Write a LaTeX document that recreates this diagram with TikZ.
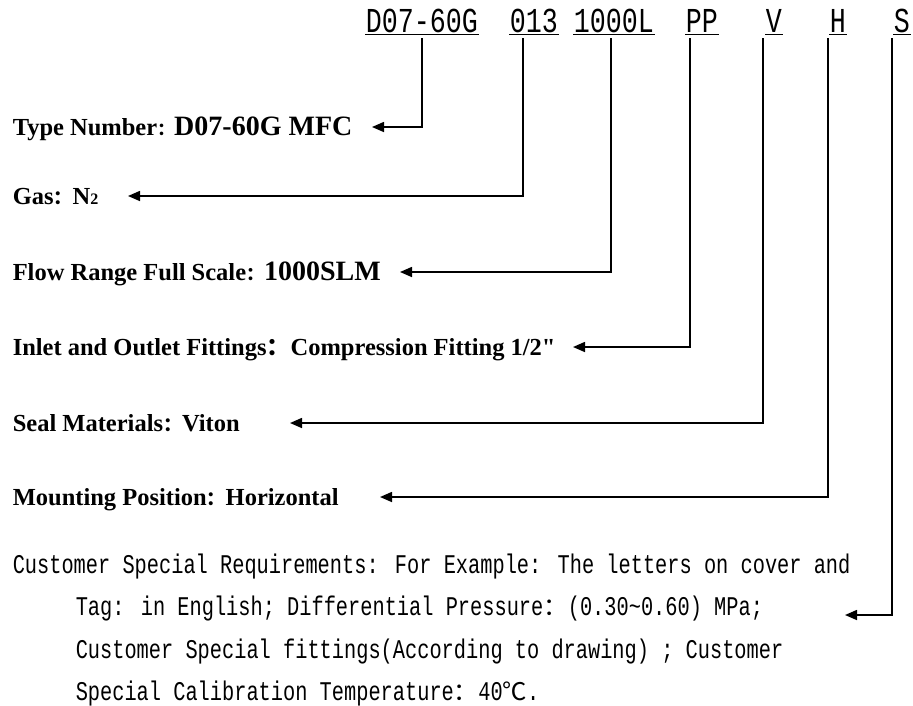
\documentclass[tikz,border=0pt]{standalone}
\usepackage{fontspec}
\setmainfont{Liberation Serif}
\newfontfamily\codefont[FakeStretch=0.762]{Liberation Mono}
\newfontfamily\reqfont[FakeStretch=0.753]{Liberation Mono}
\newfontfamily\cjkfont{Noto Sans CJK SC}
\newfontfamily\quotefont{Liberation Serif}
\usetikzlibrary{arrows.meta}

% full width colon, its size sets its width
\newcommand{\fwc}[1]{{\cjkfont\bfseries\fontsize{#1}{#1}\selectfont ：}}
\newcommand{\bigval}[1]{{\fontsize{28}{32}\selectfont #1}}
\newcommand{\cjkreq}[1]{{\cjkfont\fontsize{24.4}{28}\selectfont #1}}

\tikzset{every picture/.style={line width=1.5pt},
	codetok/.style={anchor=base west,inner sep=0pt,font=\codefont\fontsize{35}{40}\selectfont},
	keytext/.style={anchor=base west,inner sep=0pt,font=\bfseries\fontsize{24.5}{28}\selectfont},
	reqtext/.style={anchor=base west,inner sep=0pt,font=\reqfont\fontsize{27}{30}\selectfont},
	link/.style={-{Triangle[length=12pt,width=10pt]},line width=1.6pt}}

\begin{document}
\begin{tikzpicture}[x=1pt,y=1pt,yscale=-1,xscale=1]
	\useasboundingbox (0,0) rectangle (913,705);
	\fill[white] (0,0) rectangle (913,705);
	
	%code string
	\node[codetok] (cType) at (365,32) {D07-60G};
	\node[codetok] (cGas) at (509,32) {013};
	\node[codetok] (cFlow) at (573,32) {1000L};
	\node[codetok] (cFit) at (685,32) {PP};
	\node[codetok] (cSeal) at (765,32) {V};
	\node[codetok] (cMount) at (829,32) {H};
	\node[codetok] (cSpec) at (893,32) {S};
	\foreach \t in {cType,cGas,cFlow,cFit,cSeal,cMount,cSpec}
		\draw[line width=1.3pt] ([yshift=2.5pt]\t.base west) -- ([yshift=2.5pt]\t.base east);
	
	%labels
	\node[keytext] (lType) at (12,135) {Type Number\fwc{17pt}\bigval{D07-60G MFC}};
	\node[keytext] (lGas) at (12,204) {Gas\fwc{19pt}N{\fontsize{16}{18}\selectfont 2}};
	\node[keytext] (lFlow) at (12,280) {Flow Range Full Scale\fwc{18pt}\bigval{1000SLM}};
	\node[keytext] (lFit) at (12,355) {Inlet and Outlet Fittings\fwc{24pt}Compression Fitting 1/2{\quotefont\bfseries "}};
	\node[keytext] (lSeal) at (12,431) {Seal Materials\fwc{19pt}Viton};
	\node[keytext] (lMount) at (12,505) {Mounting Position\fwc{19pt}Horizontal};
	
	\node[reqtext] (req1) at (12,573) {Customer Special Requirements: For Example: The letters on cover and};
	\node[reqtext] (req2) at (75,615.5) {Tag: in English; Differential Pressure\cjkreq{：}(0.30\textasciitilde0.60) MPa;};
	\node[reqtext] (req3) at (75,658) {Customer Special fittings(According to drawing) ; Customer};
	\node[reqtext] (req4) at (75,700.5) {Special Calibration Temperature\cjkreq{：}40\cjkreq{℃}.};
	
	%arrow tips
	\coordinate (tipType) at (372,127);
	\coordinate (tipGas) at (128,196);
	\coordinate (tipFlow) at (400,272);
	\coordinate (tipFit) at (573,347);
	\coordinate (tipSeal) at (290,423);
	\coordinate (tipMount) at (380,497);
	\coordinate (tipSpec) at (845,615);
	
	\draw[link] ([yshift=6pt]cType.base) |- (tipType);
	\draw[link] ([xshift=14pt,yshift=6pt]cGas.base west) |- (tipGas);
	\draw[link] ([xshift=38pt,yshift=6pt]cFlow.base west) |- (tipFlow);
	\draw[link] ([xshift=5pt,yshift=6pt]cFit.base west) |- (tipFit);
	\draw[link] ([xshift=-2pt,yshift=6pt]cSeal.base west) |- (tipSeal);
	\draw[link] ([xshift=-1pt,yshift=6pt]cMount.base west) |- (tipMount);
	\draw[link] ([xshift=-1pt,yshift=6pt]cSpec.base west) |- (tipSpec);
	
\end{tikzpicture}
\end{document}
